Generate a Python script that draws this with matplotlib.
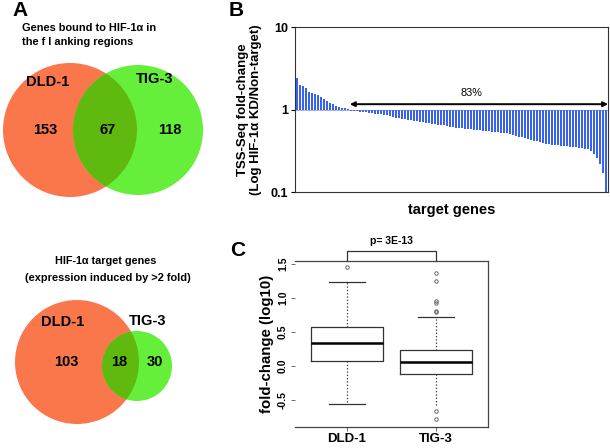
"""HIF-1a target genes: Venn diagrams, TSS-Seq fold-change and boxplot."""

import matplotlib
matplotlib.use('Agg')
import matplotlib.pyplot as plt
from matplotlib.patches import Circle
import numpy as np

plt.rcParams['font.family'] = ['Liberation Sans', 'DejaVu Sans']
plt.rcParams['font.weight'] = 'bold'
plt.rcParams['axes.labelweight'] = 'bold'

# ----------------------------------------------------------------------------
# Data

# Panel A: Venn counts (DLD-1 only, shared, TIG-3 only)
venn_bound = [153, 67, 118]
venn_target = [103, 18, 30]
cell_lines = ['DLD-1', 'TIG-3']

# Panel B: TSS-Seq fold-change of target genes (HIF-1a KD / non-target)
fold_up = [2.4, 2.0, 1.95, 1.8, 1.65, 1.6, 1.55, 1.5, 1.42, 1.35, 1.28,
           1.2, 1.15, 1.1, 1.07, 1.05, 1.03, 1.01]
fold_down = [
    0.97, 0.96, 0.95, 0.94, 0.93, 0.92, 0.91, 0.90, 0.89, 0.88, 0.87, 0.86,
    0.85, 0.83, 0.81, 0.79,
    0.78, 0.77, 0.76, 0.75, 0.74, 0.73, 0.72, 0.71, 0.70, 0.69, 0.68, 0.67,
    0.66, 0.65, 0.645, 0.64, 0.63, 0.62, 0.61, 0.60, 0.595, 0.59, 0.585,
    0.58, 0.575, 0.57, 0.565, 0.56, 0.555, 0.55, 0.545, 0.54, 0.535, 0.53,
    0.525, 0.52, 0.515,
    0.50, 0.49, 0.48, 0.47, 0.46, 0.45, 0.44, 0.43, 0.42, 0.41, 0.40, 0.39,
    0.385, 0.38, 0.375,
    0.37, 0.37, 0.365, 0.36, 0.36, 0.355, 0.35, 0.35, 0.345, 0.34, 0.335,
    0.33,
    0.31, 0.29, 0.26, 0.22, 0.17, 0.10]

# Panel C: boxplot summary of fold-change (log10)
box_med = [0.34, 0.06]
box_q1 = [0.08, -0.12]
box_q3 = [0.57, 0.23]
box_whislo = [-0.56, -0.60]
box_whishi = [1.23, 0.72]
box_fliers = [[1.45],
              [1.37, 1.24, 0.95, 0.92, 0.81, 0.79, -0.65, -0.78]]
p_value = 'p= 3E-13'

ORANGE = '#fa774b'
GREEN = '#66ef3a'
OVERLAP = '#60b90e'
BLUE = '#3a62f2'

fig = plt.figure(figsize=(6.1, 4.48), dpi=100)

# overlay in pixel coordinates for the Venn diagrams and panel letters
over = fig.add_axes([0, 0, 1, 1], zorder=0)
over.set_xlim(0, 610)
over.set_ylim(448, 0)
over.axis('off')


def _venn(ax, counts, c1, r1, c2, r2, lab_pos, num_pos):
    """Two-circle Venn diagram with a separately coloured overlap."""
    left = Circle(c1, r1, color=ORANGE, lw=0)
    right = Circle(c2, r2, color=GREEN, lw=0)
    ax.add_patch(left)
    ax.add_patch(right)
    inter = Circle(c2, r2, color=OVERLAP, lw=0)
    ax.add_patch(inter)
    inter.set_clip_path(left)
    for name, pos in zip(cell_lines, lab_pos):
        ax.text(pos[0], pos[1], name, fontsize=10.5, ha='center',
                va='center')
    for n, pos in zip(counts, num_pos):
        ax.text(pos[0], pos[1], str(n), fontsize=10.5, ha='center',
                va='center')


# Panel A ------------------------------------------------------------------
over.text(12, 11, 'A', fontsize=15, va='center', ha='left')
over.text(22, 28, 'Genes bound to HIF-1\u03b1 in', fontsize=7.9, va='center')
over.text(22, 42, 'the f l anking regions', fontsize=7.9, va='center')
_venn(over, venn_bound, (70, 130), 67, (138, 130), 65,
      [(48, 82), (155, 79)], [(45, 130), (108, 130), (170, 130)])

over.text(106, 261, 'HIF-1\u03b1 target genes', fontsize=7.8, ha='center',
          va='center')
over.text(108, 278, '(expression induced by >2 fold)', fontsize=7.9,
          ha='center', va='center')
_venn(over, venn_target, (77, 362), 62, (137, 366), 35,
      [(63, 322), (148, 321)], [(66, 362), (119, 362), (155, 362)])

# Panel B ------------------------------------------------------------------
over.text(229, 11, 'B', fontsize=15, va='center', ha='left')
fold_change = np.array(fold_up + fold_down)
x = np.arange(len(fold_change))

ax = fig.add_axes([295 / 610, 1 - 192 / 448, 313 / 610, 165 / 448])
ax.bar(x, fold_change - 1, bottom=1, width=2 / 3, color=BLUE, lw=0,
       antialiased=False)
ax.axhline(1, color='#9aa6c8', lw=0.6, zorder=0)
ax.set_yscale('log')
ax.set_ylim(0.1, 10)
ax.set_xlim(-2 / 3, -2 / 3 + 313 / 3)
ax.set_yticks([0.1, 1, 10])
ax.set_yticklabels(['0.1', '1', '10'], fontsize=9, fontweight='bold')
ax.minorticks_off()
ax.set_xticks([])
ax.tick_params(axis='y', length=3, width=0.8, pad=2)
for s in ax.spines.values():
    s.set_linewidth(0.8)
    s.set_color('#333333')
ax.set_xlabel('target genes', fontsize=10.5, labelpad=8, fontweight='bold')
ax.set_ylabel('TSS-Seq fold-change\n(Log HIF-1\u03b1 KD/Non-target)',
              fontsize=9.5, linespacing=1.1, labelpad=6, fontweight='bold')

n_down = len(fold_down)
ax.annotate('', xy=(len(fold_change) - 0.3, 1.16),
            xytext=(len(fold_up) - 0.4, 1.16),
            arrowprops=dict(arrowstyle='<|-|>', lw=1.4, color='black',
                            mutation_scale=7, shrinkA=0, shrinkB=0))
ax.text(58, 1.6,
        '{}%'.format(round(100 * n_down / len(fold_change))),
        fontsize=7.8, fontweight='normal', ha='center', va='center')

# Panel C ------------------------------------------------------------------
over.text(230, 250, 'C', fontsize=15, va='center', ha='left')
axc = fig.add_axes([295 / 610, 1 - 427 / 448, 193 / 610, 166 / 448])
stats = []
for i, name in enumerate(cell_lines):
    stats.append(dict(label=name, med=box_med[i], q1=box_q1[i],
                      q3=box_q3[i], whislo=box_whislo[i],
                      whishi=box_whishi[i], fliers=box_fliers[i]))
bp = axc.bxp(stats, positions=[1, 2], widths=0.8, capwidths=0.4,
             boxprops=dict(lw=0.9, color='#333333'),
             medianprops=dict(lw=1.8, color='black'),
             whiskerprops=dict(lw=0.9, ls=':', color='#333333'),
             capprops=dict(lw=0.9, color='#333333'),
             flierprops=dict(marker='o', ms=2.5, mfc='none', mec='#555555',
                             mew=0.6))
bp['caps'][2].set_visible(False)
axc.set_xlim(0.42, 2.58)
axc.set_ylim(-0.89, 1.54)
axc.set_yticks([-0.5, 0.0, 0.5, 1.0, 1.5])
axc.set_yticklabels(['-0.5', '0.0', '0.5', '1.0', '1.5'], rotation=90,
                    va='center', fontsize=7.5, fontweight='bold')
axc.set_xticks([1, 2])
axc.set_xticklabels(cell_lines, fontsize=9.5, fontweight='bold')
axc.tick_params(axis='y', length=3, width=0.6, pad=2, color='#555555')
axc.tick_params(axis='x', length=3, width=0.6, pad=1, color='#555555')
for s in axc.spines.values():
    s.set_linewidth(0.9)
    s.set_color('#444444')
axc.spines['left'].set_visible(False)
axc.set_ylabel('fold-change (log10)', fontsize=10.8, labelpad=3,
               fontweight='bold')

axc.plot([1, 1, 2, 2], [1.54, 1.69, 1.69, 1.54], color='#333333', lw=0.9,
         clip_on=False)
axc.text(1.5, 1.83, p_value, fontsize=7.5, ha='center', va='center')

fig.savefig('out.png', dpi=100)
